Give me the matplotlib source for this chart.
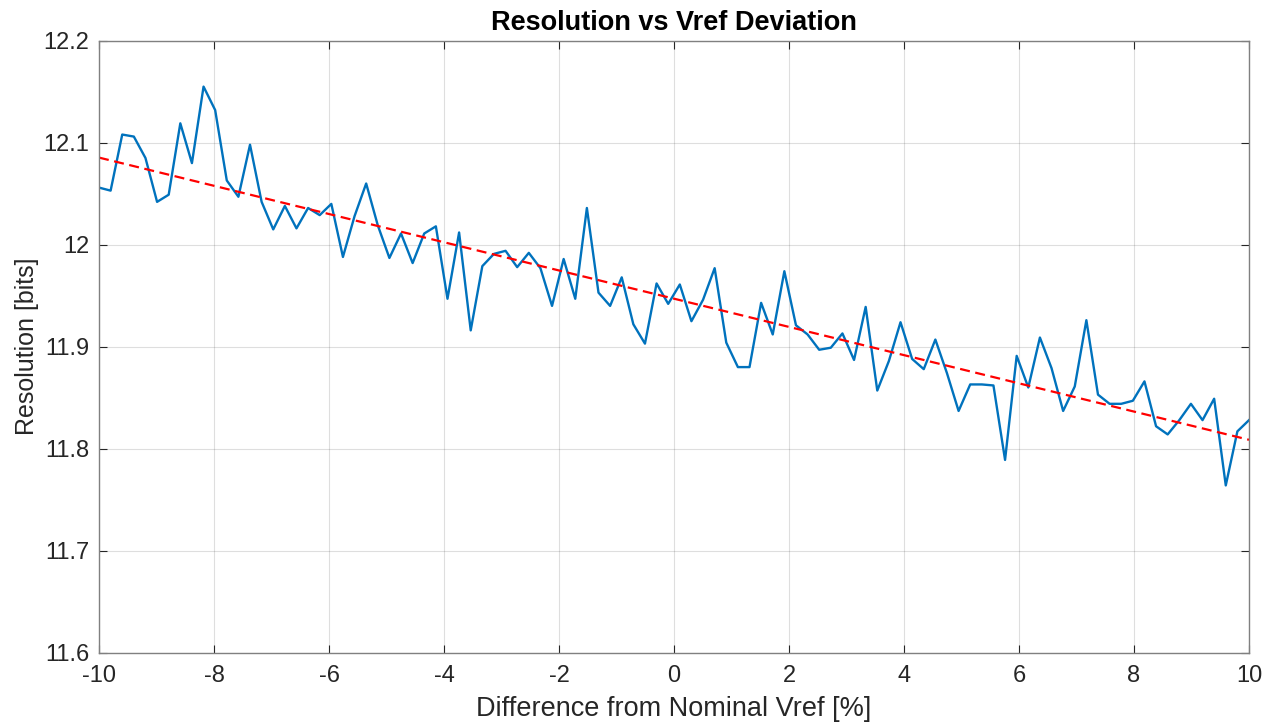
import numpy as np
import matplotlib
matplotlib.use("Agg")
import matplotlib.pyplot as plt

# measured resolution (bits) at 100 evenly spaced Vref deviations
x_min, x_max, n_points = -10, 10, 100
resolution = [
    12.056, 12.053, 12.108, 12.106, 12.085, 12.042, 12.049, 12.119, 12.080, 12.155,
    12.132, 12.063, 12.047, 12.098, 12.042, 12.015, 12.038, 12.016, 12.036, 12.029,
    12.040, 11.988, 12.028, 12.060, 12.019, 11.987, 12.011, 11.982, 12.011, 12.018,
    11.947, 12.012, 11.916, 11.979, 11.991, 11.994, 11.978, 11.992, 11.977, 11.940,
    11.986, 11.947, 12.036, 11.953, 11.940, 11.968, 11.922, 11.903, 11.962, 11.942,
    11.961, 11.925, 11.946, 11.977, 11.904, 11.880, 11.880, 11.943, 11.912, 11.974,
    11.921, 11.912, 11.897, 11.899, 11.913, 11.887, 11.939, 11.857, 11.886, 11.924,
    11.888, 11.878, 11.907, 11.874, 11.837, 11.863, 11.863, 11.862, 11.789, 11.891,
    11.860, 11.909, 11.879, 11.837, 11.861, 11.926, 11.853, 11.844, 11.844, 11.847,
    11.866, 11.822, 11.814, 11.828, 11.844, 11.828, 11.849, 11.764, 11.817, 11.828,
]

xticks = [-10, -8, -6, -4, -2, 0, 2, 4, 6, 8, 10]
yticks = [11.6, 11.7, 11.8, 11.9, 12.0, 12.1, 12.2]
ytick_labels = ["11.6", "11.7", "11.8", "11.9", "12", "12.1", "12.2"]

deviation = np.linspace(x_min, x_max, n_points)
# linear trend through the measurements
fit = np.polyval(np.polyfit(deviation, resolution, 1), deviation)

plt.rcParams["font.family"] = ["Liberation Sans", "DejaVu Sans"]
text_color = (0.15, 0.15, 0.15)

fig = plt.figure(figsize=(12.74, 7.28), dpi=100)
ax = fig.add_axes([99 / 1274, 1 - 652.7 / 728, 1150 / 1274, 612 / 728])

ax.plot(deviation, resolution, color="#0072BD", linewidth=1.7)
ax.plot(deviation, fit, "--", color="red", linewidth=1.6, dashes=(4.5, 2.5))

ax.set_xlim(x_min, x_max)
ax.set_ylim(11.6, 12.2)
ax.set_xticks(xticks)
ax.set_xticklabels([str(t) for t in xticks])
ax.set_yticks(yticks)
ax.set_yticklabels(ytick_labels)

ax.grid(True, color=(0.15, 0.15, 0.15), alpha=0.15, linewidth=0.8)
ax.tick_params(direction="in", length=6, width=0.8, colors=text_color,
               labelsize=17, top=True, right=True, pad=7)
ax.tick_params(axis="x", pad=9)
for s in ax.spines.values():
    s.set_color((0.5, 0.5, 0.5))
    s.set_linewidth(1.0)

ax.set_title("Resolution vs Vref Deviation", fontsize=19.5, fontweight="bold",
             color="black", pad=8)
ax.set_xlabel("Difference from Nominal Vref [%]", fontsize=19.5, color=text_color,
              labelpad=6)
ax.set_ylabel("Resolution [bits]", fontsize=18, color=text_color, labelpad=3)

fig.savefig("out.png", dpi=100)
